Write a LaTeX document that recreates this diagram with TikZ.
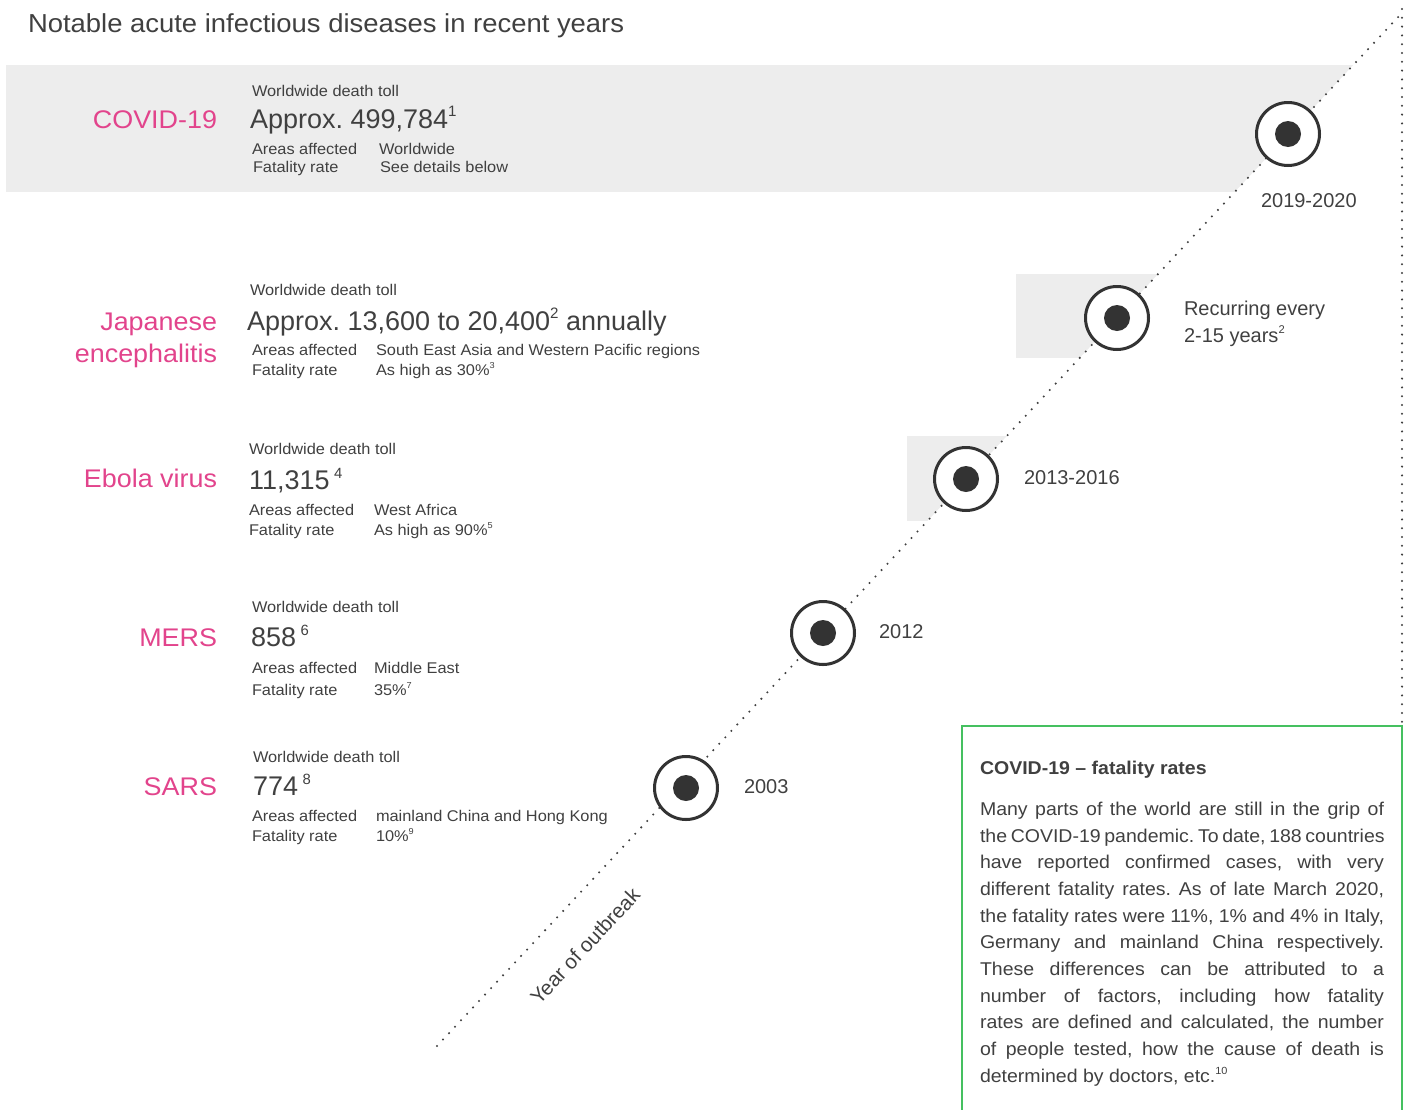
\documentclass[tikz,border=0pt]{standalone}
\usepackage{graphicx}
\usepackage{fontspec}
\setmainfont{Liberation Sans}[FakeStretch=1.055]
\newfontfamily\plainsf{Liberation Sans}
\definecolor{ink}{HTML}{404040}
\definecolor{ringc}{HTML}{333333}
\definecolor{pinkc}{RGB}{226,68,140}
\definecolor{band}{HTML}{EDEDED}
\definecolor{boxgreen}{HTML}{45C060}
\newcommand{\sups}[1]{\raisebox{0.8ex}{\scalebox{0.56}{#1}}}
\newcommand{\gsups}[1]{\,\raisebox{0.72ex}{\scalebox{0.55}{#1}}}
\newcommand{\jline}[1]{\makebox[404pt][s]{#1}}
\frenchspacing
\begin{document}
\begin{tikzpicture}[x=1pt,y=-1pt,
  every node/.style={inner sep=0pt, outer sep=0pt, text=ink},
  small/.style={anchor=base west, font=\fontsize{15.5}{18}\selectfont},
  big/.style={anchor=base west, font=\plainsf\fontsize{27}{30}\selectfont},
  dname/.style={anchor=base east, text=pinkc, font=\fontsize{25.5}{30}\selectfont},
  yearlab/.style={anchor=base west, font=\plainsf\fontsize{20}{24}\selectfont},
  ring/.style={circle, draw=ringc, line width=3pt, fill=white, minimum size=63pt},
  hub/.style={circle, fill=ringc, minimum size=26pt},
  dotline/.style={draw=ink, line width=2.3pt, line cap=round, dash pattern=on 0pt off 8.8pt},
  body/.style={anchor=base west, font=\fontsize{18.5}{22}\selectfont}]
\useasboundingbox (0,0) rectangle (1408,1109);

% axis coordinates
\coordinate (d0) at (437,1046);
\coordinate (d1) at (1400,15);
\coordinate (v0) at (1402,9);
\coordinate (v1) at (1402,726);

% grey bands clipped by the diagonal
\begin{scope}
  \clip (d0) -- (d1) -- (0,15) -- (0,1046) -- cycle;
  \fill[band] (6,65) rectangle (1408,192);
  \fill[band] (1016,274) rectangle (1408,358);
  \fill[band] (907,436) rectangle (1408,521);
\end{scope}

% title
\node[anchor=base west, font=\fontsize{26}{28}\selectfont] (title) at (28,32) {Notable acute infectious diseases in recent years};

% dotted axes
\draw[dotline] (d0) -- (d1);
\draw[dotline] (v0) -- (v1);

% green box
\draw[boxgreen, line width=1.4pt] (962,1112) -- (962,726) -- (1402,726) -- (1402,1112);

% circles
\node[ring] (c1) at (1288,134) {};
\node[ring] (c2) at (1117,318) {};
\node[ring] (c3) at (966,479) {};
\node[ring] (c4) at (823,633) {};
\node[ring] (c5) at (686,788) {};
\node[hub] (h1) at (c1) {};
\node[hub] (h2) at (c2) {};
\node[hub] (h3) at (c3) {};
\node[hub] (h4) at (c4) {};
\node[hub] (h5) at (c5) {};

% year labels
\node[yearlab] (y1) at (1261,207) {2019-2020};
\node[yearlab] (y2a) at (1184,315) {Recurring every};
\node[yearlab] (y2b) at (1184,342) {2-15 years\sups{2}};
\node[yearlab] (y3) at (1024,484) {2013-2016};
\node[yearlab] (y4) at (879,638) {2012};
\node[yearlab] (y5) at (744,793) {2003};
\node[rotate=47, font=\plainsf\fontsize{20.5}{24}\selectfont] (yo) at (585,946) {Year of outbreak};

% COVID-19
\node[dname] (n1) at (217,128) {COVID-19};
\node[small] (w1) at (252,96.5) {Worldwide death toll};
\node[big] (b1) at (250,128) {Approx. 499,784\sups{1}};
\node[small] (a1) at (252,154.5) {Areas affected};
\node[small] (f1) at (253,172.5) {Fatality rate};
\node[small] (a1v) at (379,154.5) {Worldwide};
\node[small] (f1v) at (380,172.5) {See details below};

% Japanese encephalitis
\node[dname] (n2a) at (217,330) {Japanese};
\node[dname] (n2b) at (217,362) {encephalitis};
\node[small] (w2) at (250,295) {Worldwide death toll};
\node[big] (b2) at (247,330) {Approx. 13,600 to 20,400\sups{2} annually};
\node[small] (a2) at (252,355) {Areas affected};
\node[small] (f2) at (252,375) {Fatality rate};
\node[small] (a2v) at (376,355) {South East Asia and Western Pacific regions};
\node[small] (f2v) at (376,375) {As high as 30\%\sups{3}};

% Ebola
\node[dname] (n3) at (217,487) {Ebola virus};
\node[small] (w3) at (249,454) {Worldwide death toll};
\node[big] (b3) at (249,489) {11,315\gsups{4}};
\node[small] (a3) at (249,515) {Areas affected};
\node[small] (f3) at (249,535) {Fatality rate};
\node[small] (a3v) at (374,515) {West Africa};
\node[small] (f3v) at (374,535) {As high as 90\%\sups{5}};

% MERS
\node[dname] (n4) at (217,646) {MERS};
\node[small] (w4) at (252,612) {Worldwide death toll};
\node[big] (b4) at (251,646) {858\gsups{6}};
\node[small] (a4) at (252,673) {Areas affected};
\node[small] (f4) at (252,695) {Fatality rate};
\node[small] (a4v) at (374,673) {Middle East};
\node[small] (f4v) at (374,695) {35\%\sups{7}};

% SARS
\node[dname] (n5) at (217,795) {SARS};
\node[small] (w5) at (253,762) {Worldwide death toll};
\node[big] (b5) at (253,795) {774\gsups{8}};
\node[small] (a5) at (252,821) {Areas affected};
\node[small] (f5) at (252,841) {Fatality rate};
\node[small] (a5v) at (376,821) {mainland China and Hong Kong};
\node[small] (f5v) at (376,841) {10\%\sups{9}};

% box text
\node[anchor=base west, font=\bfseries\fontsize{18.5}{22}\selectfont] (bh) at (980,774) {COVID-19 – fatality rates};
\node[body] (l1) at (980,815) {\jline{Many parts of the world are still in the grip of}};
\node[body] (l2) at (980,842) {\jline{the COVID-19 pandemic. To date, 188 countries}};
\node[body] (l3) at (980,868) {\jline{have reported confirmed cases, with very}};
\node[body] (l4) at (980,895) {\jline{different fatality rates. As of late March 2020,}};
\node[body] (l5) at (980,922) {\jline{the fatality rates were 11\%, 1\% and 4\% in Italy,}};
\node[body] (l6) at (980,948) {\jline{Germany and mainland China respectively.}};
\node[body] (l7) at (980,975) {\jline{These differences can be attributed to a}};
\node[body] (l8) at (980,1002) {\jline{number of factors, including how fatality}};
\node[body] (l9) at (980,1028) {\jline{rates are defined and calculated, the number}};
\node[body] (l10) at (980,1055) {\jline{of people tested, how the cause of death is}};
\node[body] (l11) at (980,1082) {determined by doctors, etc.\sups{10}};
\end{tikzpicture}
\end{document}
